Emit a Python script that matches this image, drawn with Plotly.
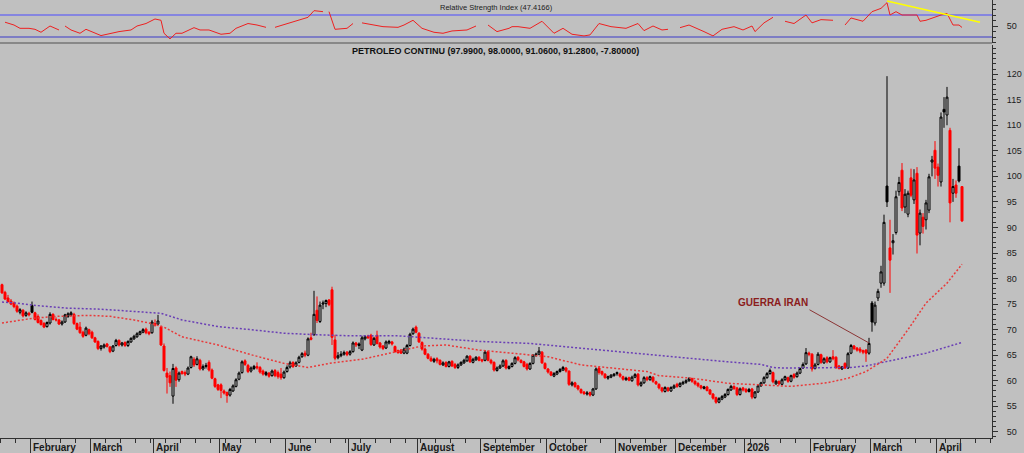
import pandas as pd
import plotly.graph_objects as go

# ---------------- data ----------------
START = "2025-01-20"
N_DAYS = 321
DATES = list(pd.bdate_range(START, periods=N_DAYS + 12) + pd.Timedelta(hours=12))

OPEN = [
    # Jan 2025
    78.8, 77.3, 76.2, 75.6, 75.2, 74.6, 73.4, 73.8, 72.8, 73.2,
    # Feb
    74.7, 73.3, 72.6, 71.8, 71.2, 70.6, 71.3, 73.0, 72.0, 71.9, 71.1, 71.5, 72.6, 72.9, 73.0, 71.2, 70.5, 69.5, 68.9, 70.0,
    # Mar
    69.5, 68.4, 67.7, 66.3, 66.6, 67.2, 66.6, 65.8, 66.9, 67.9, 67.0, 67.5, 66.9, 67.6, 68.2, 68.6, 69.1, 69.5, 70.1, 69.5, 69.4,
    # Apr
    70.9, 71.1, 70.5, 66.8, 61.5, 61.0, 57.0, 62.5, 60.2, 61.8, 61.6, 61.3, 62.6, 64.2, 63.2, 64.0, 62.3, 62.8, 63.6, 62.1, 60.4, 59.2,
    # May
    59.2, 58.0, 57.7, 57.2, 58.0, 58.9, 60.3, 61.6, 63.9, 63.0, 61.9, 62.4, 62.8, 62.6, 61.9, 61.2, 61.5, 61.0, 62.0, 61.6, 61.3, 60.6,
    # Jun
    61.8, 62.7, 63.6, 62.9, 63.6, 64.7, 65.4, 65.0, 68.4, 69.0, 73.8, 71.6, 75.0, 75.1, 75.8, 77.8, 68.0, 64.5, 64.9, 65.2, 65.6,
    # Jul
    65.2, 65.7, 67.4, 66.9, 66.0, 68.2, 68.7, 68.9, 67.0, 68.9, 67.4, 66.8, 66.4, 67.4, 67.6, 66.7, 65.9, 66.0, 65.4, 65.4, 66.9, 69.2, 70.5,
    # Aug
    69.3, 67.5, 66.2, 65.2, 64.4, 63.8, 64.3, 64.0, 63.1, 63.6, 62.8, 63.8, 63.2, 62.6, 63.1, 63.5, 63.9, 64.8, 63.6, 64.1, 64.6,
    # Sep
    64.1, 64.0, 65.7, 64.0, 63.6, 62.0, 62.5, 62.9, 64.0, 62.4, 62.8, 63.4, 64.6, 64.0, 63.7, 63.2, 62.3, 63.4, 65.0, 65.2, 65.6, 63.4,
    # Oct
    62.3, 61.7, 60.9, 61.3, 61.8, 62.1, 62.5, 61.9, 59.2, 59.6, 59.0, 58.3, 57.8, 57.4, 57.7, 57.2, 58.4, 62.5, 61.8, 61.3, 60.5, 60.7, 61.0,
    # Nov
    61.6, 61.3, 60.8, 60.2, 60.6, 60.0, 60.7, 61.3, 59.1, 59.6, 60.6, 60.2, 60.7, 59.8, 59.3, 58.6, 57.9, 58.6, 58.0, 58.6,
    # Dec
    59.3, 58.9, 59.4, 59.7, 60.0, 60.4, 59.9, 59.5, 59.0, 58.5, 58.8, 58.2, 57.4, 56.7, 55.8, 56.4, 56.8, 57.3, 58.2, 58.9, 58.6, 57.3, 58.6,
    # Jan 2026
    58.3, 57.9, 58.4, 56.7, 57.8, 59.0, 59.6, 60.6, 61.4, 61.6, 59.4, 59.9, 59.3, 60.2, 60.6, 59.9, 61.2, 60.8, 61.5, 62.5, 63.3, 65.4,
    # Feb 2026
    65.2, 62.4, 63.2, 65.1, 63.5, 64.5, 63.7, 64.7, 64.6, 62.9, 62.3, 63.4, 62.5, 65.4, 66.8, 66.4, 66.2, 65.9, 66.0, 65.4,
    # Mar 2026
    75.2, 71.3, 76.2, 79.1, 79.1, 98.1, 86.0, 87.0, 89.0, 97.0, 101.2, 94.0, 92.6, 99.7, 95.4, 100.6, 88.9, 92.0, 91.5, 93.4, 102.8, 105.1,
    # Apr 2026
    101.8, 98.9, 113.1, 112.0, 109.0, 96.7, 98.3, 102.0, 97.99,
]
HIGH = [
    79.0, 77.6, 76.8, 76.0, 75.5, 74.9, 74.2, 74.0, 73.6, 73.5,
    75.5, 73.5, 73.0, 72.0, 71.5, 71.6, 73.4, 73.2, 72.4, 72.1, 71.8, 73.1, 73.4, 73.6, 73.3, 71.4, 71.5, 69.8, 70.6, 70.2,
    69.8, 68.6, 67.9, 67.0, 67.3, 67.4, 66.8, 67.0, 68.2, 68.1, 67.6, 67.7, 67.9, 68.5, 69.0, 69.5, 69.8, 70.3, 70.4, 69.7, 71.9,
    72.0, 72.9, 70.8, 67.3, 62.5, 61.8, 63.3, 62.8, 61.8, 62.0, 62.0, 62.8, 64.9, 64.6, 64.8, 64.3, 63.2, 63.5, 64.0, 62.4, 60.6, 59.4,
    59.5, 58.3, 57.9, 58.6, 59.3, 60.5, 61.8, 64.0, 64.2, 63.3, 62.8, 63.1, 63.6, 62.9, 62.2, 61.9, 61.7, 62.2, 62.3, 62.0, 62.5, 62.0,
    63.0, 63.9, 63.8, 63.8, 64.9, 65.6, 65.9, 68.5, 69.4, 77.6, 76.5, 75.5, 75.7, 75.9, 76.0, 78.4, 69.0, 65.6, 65.8, 65.9, 65.8,
    66.0, 67.7, 67.6, 67.5, 68.8, 68.9, 69.0, 69.2, 68.6, 69.8, 67.6, 67.0, 67.9, 68.0, 67.8, 66.9, 66.1, 66.2, 66.5, 67.2, 69.4, 70.4, 70.8,
    69.5, 67.7, 66.5, 65.4, 64.8, 64.5, 64.6, 64.2, 63.8, 63.8, 63.9, 64.0, 63.5, 63.4, 63.8, 64.3, 65.0, 65.0, 64.5, 64.8, 64.8,
    64.3, 66.0, 65.9, 64.3, 63.8, 62.8, 63.2, 64.2, 64.2, 63.0, 63.6, 64.8, 64.8, 64.2, 63.9, 63.5, 63.6, 65.2, 65.5, 66.6, 65.8, 63.6,
    62.5, 61.9, 61.7, 62.0, 62.5, 62.9, 62.7, 62.0, 59.9, 59.8, 59.2, 58.5, 58.0, 58.0, 57.9, 58.6, 62.6, 62.8, 62.0, 61.5, 61.0, 61.3, 61.5,
    61.8, 61.6, 61.0, 60.8, 60.8, 61.0, 61.5, 61.5, 59.9, 60.9, 60.9, 61.0, 60.9, 60.0, 59.5, 58.8, 58.9, 58.8, 58.9, 59.3,
    59.6, 59.7, 60.0, 60.3, 60.7, 60.6, 60.1, 59.7, 59.2, 59.0, 59.0, 58.4, 57.6, 56.9, 56.8, 57.2, 57.6, 58.5, 59.2, 59.1, 58.8, 58.7, 58.8,
    58.6, 58.6, 58.6, 58.0, 59.3, 59.8, 60.9, 61.7, 62.4, 61.8, 60.2, 60.0, 60.5, 61.0, 60.8, 61.2, 61.5, 61.8, 62.6, 63.6, 66.4, 65.7,
    65.4, 63.5, 65.6, 65.3, 64.6, 64.8, 64.7, 66.0, 64.8, 63.1, 62.9, 63.6, 65.6, 67.2, 67.0, 66.6, 66.6, 66.1, 66.2, 68.4,
    75.6, 75.5, 78.0, 82.5, 92.5, 119.6, 91.5, 88.7, 97.2, 99.9, 102.6, 97.5, 97.2, 101.5, 101.4, 101.8, 93.5, 92.8, 95.4, 100.5, 104.0, 106.9,
    102.5, 112.5, 115.5, 117.5, 109.5, 99.5, 99.2, 105.5, 98.0,
]
LOW = [
    77.0, 75.8, 75.3, 74.8, 74.2, 73.3, 73.0, 72.4, 72.5, 72.6,
    73.2, 71.8, 71.2, 70.8, 70.3, 70.4, 71.0, 71.8, 71.6, 70.9, 70.8, 71.3, 72.3, 72.6, 70.9, 69.9, 69.2, 68.4, 68.7, 68.9,
    68.2, 67.4, 66.0, 65.9, 66.3, 66.5, 65.4, 65.6, 66.7, 66.7, 66.7, 66.6, 66.6, 67.4, 68.0, 68.4, 68.9, 69.3, 69.1, 68.9, 69.2,
    70.6, 70.9, 66.8, 61.8, 57.5, 58.8, 55.5, 58.8, 59.8, 61.2, 60.9, 61.1, 62.4, 62.7, 63.0, 62.0, 62.0, 62.4, 61.8, 60.3, 58.6, 58.0,
    56.6, 57.3, 55.7, 56.9, 57.8, 58.7, 60.1, 61.4, 62.9, 61.5, 61.6, 62.1, 62.2, 61.4, 61.0, 60.9, 60.6, 60.8, 60.7, 60.4, 60.2, 60.4,
    61.6, 62.4, 62.5, 62.7, 63.4, 64.5, 64.6, 64.8, 67.9, 68.8, 71.3, 71.3, 74.0, 74.4, 74.6, 67.0, 64.0, 64.2, 64.6, 64.9, 64.8,
    64.9, 65.5, 66.6, 66.2, 65.8, 67.9, 68.2, 66.8, 66.8, 67.1, 66.3, 66.0, 66.2, 67.1, 66.9, 65.5, 65.3, 65.3, 65.2, 65.2, 66.7, 69.0, 69.3,
    67.4, 65.9, 65.0, 64.2, 63.7, 63.5, 63.4, 63.0, 62.9, 62.6, 62.6, 62.7, 62.3, 62.3, 62.9, 63.3, 63.7, 63.5, 63.4, 63.9, 63.8,
    63.6, 63.8, 63.8, 63.2, 61.8, 61.8, 62.3, 62.7, 62.2, 62.2, 62.6, 63.2, 63.8, 63.4, 62.6, 62.0, 62.1, 63.2, 64.7, 65.0, 63.3, 62.2,
    61.4, 60.9, 60.7, 61.1, 61.6, 61.9, 61.6, 59.0, 58.9, 58.6, 58.1, 57.4, 57.2, 57.1, 56.9, 57.0, 58.2, 61.2, 61.0, 60.4, 60.2, 60.5, 60.8,
    61.0, 60.6, 60.0, 60.0, 59.9, 59.8, 60.5, 58.9, 58.8, 59.4, 59.9, 60.0, 59.6, 59.2, 58.3, 57.7, 57.7, 57.8, 57.8, 58.4,
    58.6, 58.7, 59.2, 59.4, 59.8, 59.6, 59.1, 58.7, 58.3, 58.3, 57.9, 57.2, 56.3, 55.5, 55.6, 56.2, 56.6, 57.1, 58.0, 58.2, 57.0, 57.1, 57.9,
    57.6, 57.7, 56.4, 56.5, 57.6, 58.8, 59.4, 60.4, 61.2, 59.5, 59.2, 59.1, 59.1, 60.0, 59.6, 59.7, 60.4, 60.6, 61.3, 62.3, 63.1, 64.8,
    61.8, 62.2, 63.0, 63.3, 63.3, 63.4, 63.5, 64.0, 62.3, 62.2, 62.1, 62.3, 62.3, 65.2, 66.0, 65.7, 65.4, 65.2, 63.7, 65.1,
    69.6, 70.8, 75.6, 78.2, 78.6, 94.0, 77.2, 84.7, 88.6, 96.2, 93.2, 92.8, 92.0, 95.9, 94.6, 84.9, 86.5, 88.8, 89.6, 92.8, 100.0, 99.5,
    98.0, 98.0, 109.5, 110.0, 91.0, 95.0, 95.8, 98.8, 91.06,
]
CLOSE = [
    77.2, 76.0, 75.5, 75.0, 74.5, 73.6, 73.9, 72.7, 73.3, 72.9,
    73.4, 72.0, 71.4, 71.0, 70.5, 71.4, 73.0, 72.0, 71.9, 71.1, 71.5, 72.9, 73.1, 73.3, 71.2, 70.1, 69.4, 68.7, 70.3, 69.2,
    68.4, 67.6, 66.3, 66.8, 67.0, 66.7, 65.7, 66.8, 67.9, 67.0, 67.4, 66.9, 67.7, 68.3, 68.7, 69.2, 69.6, 70.0, 69.4, 69.2, 71.5,
    71.2, 71.7, 67.0, 62.0, 60.7, 59.6, 62.4, 60.1, 61.5, 61.4, 61.3, 62.5, 64.7, 63.1, 64.3, 62.3, 62.8, 63.0, 62.1, 60.5, 58.9, 58.3,
    58.1, 57.6, 57.1, 58.3, 59.0, 60.2, 61.5, 63.7, 63.2, 61.8, 62.5, 62.8, 62.5, 61.7, 61.3, 61.6, 60.9, 61.9, 61.0, 60.8, 60.6, 61.7,
    62.6, 63.5, 62.8, 63.5, 64.6, 65.3, 65.0, 68.2, 68.1, 73.0, 71.8, 74.8, 75.2, 75.7, 74.9, 68.5, 64.4, 64.9, 65.2, 65.5, 65.1,
    65.7, 67.4, 67.0, 67.2, 68.4, 68.6, 68.4, 67.1, 68.3, 67.3, 66.6, 66.3, 67.6, 67.7, 67.2, 65.7, 65.5, 65.4, 66.2, 66.9, 69.1, 70.1, 69.5,
    67.6, 66.2, 65.2, 64.4, 63.9, 64.2, 63.9, 63.2, 63.5, 62.8, 63.7, 62.9, 62.6, 63.1, 63.6, 64.0, 64.8, 63.7, 64.2, 64.6, 64.0,
    63.9, 65.6, 64.0, 63.5, 62.1, 62.5, 62.9, 63.9, 62.5, 62.8, 63.4, 64.5, 64.1, 63.6, 62.8, 62.3, 63.4, 65.0, 65.2, 65.8, 63.5, 62.4,
    61.7, 61.1, 61.4, 61.8, 62.2, 62.6, 61.9, 59.3, 59.6, 58.9, 58.4, 57.7, 57.5, 57.6, 57.2, 58.4, 62.3, 61.6, 61.3, 60.6, 60.8, 61.1, 61.3,
    61.4, 60.9, 60.3, 60.5, 60.1, 60.7, 61.2, 59.2, 59.6, 60.6, 60.2, 60.8, 59.9, 59.4, 58.6, 58.0, 58.7, 58.1, 58.7, 59.0,
    58.9, 59.5, 59.7, 60.0, 60.4, 59.9, 59.4, 59.0, 58.6, 58.8, 58.1, 57.4, 56.6, 55.8, 56.5, 56.9, 57.3, 58.3, 58.9, 58.5, 57.3, 58.4, 58.2,
    57.9, 58.3, 56.8, 57.8, 59.0, 59.6, 60.6, 61.4, 62.0, 59.8, 59.9, 59.4, 60.2, 60.8, 59.9, 61.0, 60.7, 61.5, 62.4, 63.2, 65.5, 65.2,
    62.3, 63.1, 65.2, 63.6, 64.3, 63.7, 64.5, 64.3, 62.6, 62.4, 62.7, 62.5, 65.3, 66.9, 66.3, 66.0, 65.8, 65.6, 65.4, 67.3,
    71.5, 74.8, 77.5, 81.3, 91.0, 95.0, 83.6, 87.4, 96.0, 98.8, 93.8, 96.5, 96.7, 96.3, 99.3, 88.5, 92.8, 90.2, 94.8, 99.9, 103.2, 101.6,
    100.2, 111.6, 112.6, 115.5, 94.8, 98.0, 96.7, 99.08, 91.28,
]

# moving averages (trading-day index, value)
MA_SLOW_DAY = [0, 5, 10, 18, 22, 33, 44, 53, 60, 72, 83, 94, 105, 116, 132, 143, 159, 176, 187,
               204, 220, 230, 242, 253, 257, 260, 272, 283, 288, 297, 308, 320]
MA_SLOW_VAL = [75.4, 75.2, 74.8, 74.4, 74.2, 74.0, 73.5, 73.2, 71.9, 70.6, 70.0, 69.3, 69.0, 68.8, 68.8,
               68.3, 67.7, 67.3, 66.7, 65.7, 64.8, 64.4, 63.7, 63.2, 62.6, 62.5, 62.5, 62.6, 62.9, 64.0, 65.4, 67.5]
MA_FAST_DAY = [0, 10, 18, 22, 29, 36, 44, 49, 54, 60, 72, 83, 94, 102, 110, 120, 132, 140, 148, 159,
               170, 182, 193, 204, 215, 219, 225, 230, 242, 253, 257, 263, 275, 282, 288, 295, 302, 308, 315, 320]
MA_FAST_VAL = [71.3, 72.2, 72.6, 72.7, 72.8, 72.6, 71.9, 71.3, 70.5, 68.6, 67.0, 65.1, 63.4, 62.6, 63.5,
               64.2, 65.7, 66.8, 67.0, 66.0, 65.4, 64.7, 63.1, 62.4, 61.8, 61.0, 60.8, 60.5, 59.5, 59.2,
               59.0, 58.9, 59.6, 60.5, 61.8, 64.4, 70.0, 75.2, 79.1, 82.8]

# RSI (trading-day index, value); None = gap in the line
RSI_DAY = [1, 4, 6, 9, 11, 13, 16, 19, 20, 21, 23, 26, 28, 33, 36, 39, 43, 45, 48, 51, 53, 54, 56, 58, 60,
           64, 66, 69, 73, 76, 78, 82, 85, 88, 89, 91, 95, 99, 102, 104, 107, 108, 109, 111, 115, 117, 118,
           120, 124, 127, 132, 134, 137, 140, 144, 147, 150, 155, 158, 159, 162, 165, 169, 170, 172, 176,
           180, 184, 187, 190, 194, 196, 199, 203, 208, 212, 214, 217, 220, 222, 223, 226, 229, 234, 237,
           240, 244, 247, 250, 251, 254, 257, 258, 261, 264, 268, 270, 273, 277, 278, 281, 283, 287, 290,
           293, 295, 296, 298, 300, 305, 306, 308, 313, 315, 317, 319, 320]
RSI_VAL = [56.9, 51.8, 45.8, 45.8, 44.0, 38.6, 50.0, 42.8, None, 50.0, 42.8, 36.8, 44.0, 32.6, 36.8, 39.8,
           42.8, 50.0, 54.5, 62.8, 60.4, 36.8, 26.6, 36.8, 36.8, 47.0, 42.8, 42.8, 35.0, 36.8, 45.8, 54.5,
           51.8, 47.6, None, 47.6, 54.5, 61.6, 65.8, 77.9, 76.1, None, 76.1, 44.0, 45.8, 54.5, None, 55.7,
           51.8, 48.8, 47.6, 51.8, 60.4, 45.8, 38.6, 36.8, 41.0, 42.8, 50.0, None, 51.8, 39.8, 45.8, 48.8,
           48.8, 45.8, 58.6, 36.8, 45.8, 35.0, 32.0, 33.8, 54.5, 48.8, 45.8, 54.5, 41.6, 50.0, 42.8, 44.0,
           None, 47.0, 51.8, 39.8, 32.0, 44.0, 48.8, 42.8, 50.0, 39.8, 55.7, 65.8, None, 58.6, 54.5, 70.0,
           55.7, 61.6, 60.4, None, 51.8, 64.6, 58.6, 76.1, 82.1, 92.4, 70.0, 76.1, 70.0, 70.0, 58.6, 60.4,
           70.0, 73.0, 51.8, 51.8, 47.4]
RSI_LEVELS = [70, 30]
TREND_DAY = [295, 326]
TREND_VAL = [95.5, 56.7]

MONTH_TICKS = ["2025-02-03", "2025-03-03", "2025-04-01", "2025-05-01", "2025-06-02", "2025-07-01",
               "2025-08-01", "2025-09-01", "2025-10-01", "2025-11-03", "2025-12-01", "2026-01-01",
               "2026-02-02", "2026-03-02", "2026-04-01"]
MONTH_LABELS = ["February", "March", "April", "May", "June", "July", "August", "September",
                "October", "November", "December", "2026", "February", "March", "April"]
Y_TICKS = list(range(50, 125, 5))
X_RANGE = ["2025-01-17 20:00", "2026-04-27 12:00"]
Y_RANGE = [48.8, 125.7]
RSI_RANGE = [19.1, 97.3]

TITLE = "PETROLEO CONTINU (97.9900, 98.0000, 91.0600, 91.2800, -7.80000)"
RSI_TITLE = "Relative Strength Index (47.4166)"
NOTE_TEXT = "GUERRA IRAN"
NOTE_DAY = 289
NOTE_PRICE = 67.4

# ---------------- figure ----------------
FONT = "Liberation Sans, Arial, sans-serif"
BG = "#c0c0c0"
AX = "#303030"
W, H = 1024, 453
M_T, M_B, M_R = 0, 15, 32
PLOT_H = H - M_T - M_B
MAIN_TOP = 1 - 45 / PLOT_H
RSI_BOT = 1 - 43 / PLOT_H

n = len(CLOSE)
black_idx = [i for i in range(n) if i > 0 and CLOSE[i] >= CLOSE[i - 1]]
red_idx = [i for i in range(n) if i == 0 or CLOSE[i] < CLOSE[i - 1]]


def candles(idx, color):
    return go.Candlestick(
        x=[DATES[i] for i in idx],
        open=[OPEN[i] for i in idx], high=[HIGH[i] for i in idx],
        low=[LOW[i] for i in idx], close=[CLOSE[i] for i in idx],
        increasing=dict(line=dict(color=color, width=1), fillcolor="rgba(0,0,0,0)"),
        decreasing=dict(line=dict(color=color, width=1), fillcolor=color),
        showlegend=False, hoverinfo="skip", xaxis="x", yaxis="y",
    )


fig = go.Figure()
fig.add_trace(go.Scatter(x=[DATES[i] for i in MA_SLOW_DAY], y=MA_SLOW_VAL, mode="lines",
                         line=dict(color="#6a3fb5", width=1.5, dash="2px,2px"),
                         showlegend=False, hoverinfo="skip"))
fig.add_trace(go.Scatter(x=[DATES[i] for i in MA_FAST_DAY], y=MA_FAST_VAL, mode="lines",
                         line=dict(color="#e83a3a", width=1.5, dash="2px,2px"),
                         showlegend=False, hoverinfo="skip"))
fig.add_trace(candles(red_idx, "#ff0000"))
fig.add_trace(candles(black_idx, "#000000"))

fig.add_trace(go.Scatter(x=[DATES[i] for i in RSI_DAY], y=RSI_VAL, mode="lines", connectgaps=False,
                         line=dict(color="#ee2020", width=1), yaxis="y2",
                         showlegend=False, hoverinfo="skip"))
fig.add_trace(go.Scatter(x=[DATES[i] for i in TREND_DAY], y=TREND_VAL, mode="lines",
                         line=dict(color="#ffff00", width=1.5), yaxis="y2",
                         showlegend=False, hoverinfo="skip"))

shapes = [
    dict(type="line", xref="paper", yref="y2", x0=0, x1=1, y0=RSI_LEVELS[0], y1=RSI_LEVELS[0],
         line=dict(color="#8585e0", width=2), layer="below"),
    dict(type="line", xref="paper", yref="y2", x0=0, x1=1, y0=RSI_LEVELS[1], y1=RSI_LEVELS[1],
         line=dict(color="#3a3ac8", width=1.2), layer="below"),
    dict(type="line", xref="paper", yref="paper", x0=0, x1=1, y0=RSI_BOT, y1=RSI_BOT,
         line=dict(color="#505050", width=1)),
]

annotations = [
    dict(text="<b>" + TITLE + "</b>", xref="paper", yref="paper", x=0.4995, y=1 - 51 / PLOT_H,
         xanchor="center", yanchor="middle", showarrow=False,
         font=dict(family=FONT, size=9, color="#101010")),
    dict(text=RSI_TITLE, xref="paper", yref="paper", x=0.5, y=1 - 7 / PLOT_H,
         xanchor="center", yanchor="middle", showarrow=False,
         font=dict(family=FONT, size=7.5, color="#202020")),
    # label of the note
    dict(text="<b>" + NOTE_TEXT + "</b>", x=DATES[NOTE_DAY], y=NOTE_PRICE, xref="x", yref="y",
         xshift=-96, yshift=40, showarrow=False, xanchor="center", yanchor="middle",
         font=dict(family=FONT, size=10, color="#8b1c1c")),
    # pointer line of the note
    dict(text="", x=DATES[NOTE_DAY], y=NOTE_PRICE, xref="x", yref="y",
         ax=-61, ay=-34, showarrow=True, arrowhead=0, arrowwidth=1, arrowcolor="#8b3535",
         standoff=0, startstandoff=0),
]
for d, lab in zip(MONTH_TICKS, MONTH_LABELS):
    annotations.append(dict(text="<b>" + lab + "</b>", x=d, xref="x", yref="paper",
                            y=-(447 - (H - M_B)) / PLOT_H, xanchor="left", yanchor="middle",
                            xshift=0, showarrow=False,
                            font=dict(family=FONT, size=10, color="#1a1a1a")))

fig.update_layout(
    width=W, height=H,
    margin=dict(l=0, r=M_R, t=M_T, b=M_B, pad=0),
    paper_bgcolor=BG, plot_bgcolor=BG,
    showlegend=False, boxgap=0.05,
    font=dict(family=FONT, size=9, color="#202020"),
    xaxis=dict(type="date", range=X_RANGE, rangebreaks=[dict(bounds=["sat", "mon"])],
               rangeslider=dict(visible=False), showgrid=False, zeroline=False,
               showline=True, linecolor=AX, linewidth=1,
               tickmode="array", tickvals=MONTH_TICKS, showticklabels=False,
               ticks="outside", ticklen=15, tickcolor=AX, tickwidth=1,
               minor=dict(ticks="outside", ticklen=4, tickcolor=AX, tick0="2025-01-20",
                          dtick=7 * 86400000, showgrid=False),
               anchor="y", domain=[0, 1]),
    yaxis=dict(domain=[0, MAIN_TOP], range=Y_RANGE, side="right", showgrid=False, zeroline=False,
               showline=True, linecolor=AX, linewidth=1, tickmode="array", tickvals=Y_TICKS,
               ticks="outside", ticklen=5, tickcolor=AX, ticklabelstandoff=7,
               tickfont=dict(family=FONT, size=9, color="#202020"),
               minor=dict(ticks="outside", ticklen=3, tickcolor=AX, dtick=1, tick0=0, showgrid=False),
               anchor="x", fixedrange=True),
    yaxis2=dict(domain=[RSI_BOT, 1], range=RSI_RANGE, side="right", showgrid=False, zeroline=False,
                showline=True, linecolor=AX, linewidth=1, tickmode="array", tickvals=[50],
                ticks="outside", ticklen=5, tickcolor=AX, ticklabelstandoff=7,
                tickfont=dict(family=FONT, size=9, color="#202020"),
                minor=dict(ticks="outside", ticklen=3, tickcolor=AX, dtick=10, tick0=0, showgrid=False),
                anchor="x"),
    shapes=shapes, annotations=annotations,
)

fig.write_html(
    "out.html",
    config={"displayModeBar": False},
    post_script="document.body.style.margin='0';document.body.style.padding='0';"
                "document.body.style.background='" + BG + "';",
)
